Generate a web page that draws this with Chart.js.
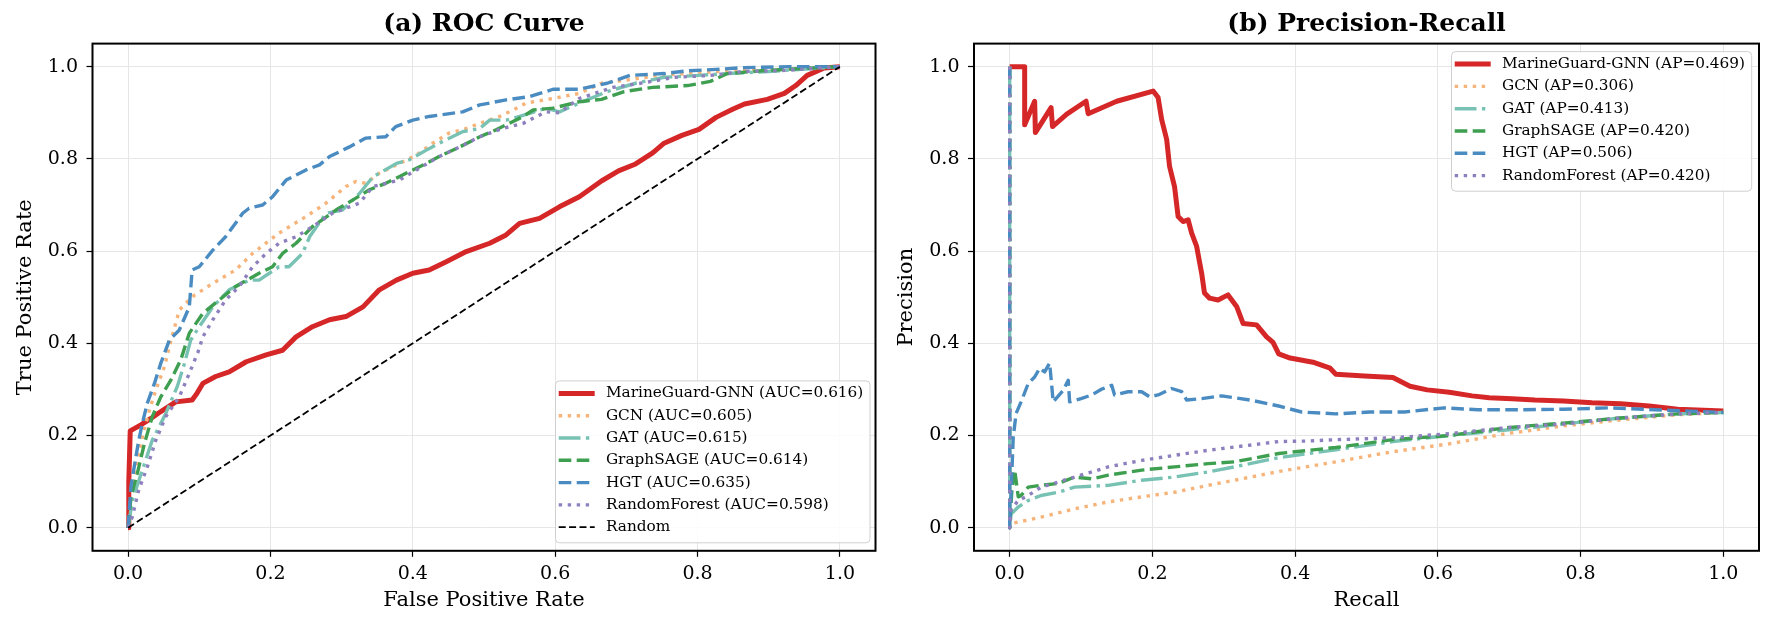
<!DOCTYPE html>
<html>
<head>
<meta charset="utf-8">
<title>ROC / PR</title>
<script src="https://cdn.jsdelivr.net/npm/chart.js@4.4.1/dist/chart.umd.min.js"></script>
<style>
  html, body { margin: 0; padding: 0; background: #fff; }
  #wrap { position: relative; width: 1774px; height: 624px; }
  canvas { position: absolute; top: 0; }
</style>
</head>
<body>
<div id="wrap">
  <canvas id="rocChart" width="887" height="624" style="left:0"></canvas>
  <canvas id="prChart" width="887" height="624" style="left:887px"></canvas>
</div>
<script>
// modellen + scores uit de legenda
const models = ["MarineGuard-GNN", "GCN", "GAT", "GraphSAGE", "HGT", "RandomForest"];
const rocAuc = ["0.616", "0.605", "0.615", "0.614", "0.635", "0.598"];
const prAp = ["0.469", "0.306", "0.413", "0.420", "0.506", "0.420"];
const tickVals = [0, 0.2, 0.4, 0.6, 0.8, 1.0];

// ROC curves (FPR / TPR)
const rocMgX = [0, 0.001, 0.003, 0.018, 0.032, 0.046, 0.067, 0.09, 0.097, 0.105, 0.123, 0.142, 0.166, 0.194, 0.217, 0.236, 0.259, 0.283, 0.306, 0.33, 0.353, 0.377, 0.4, 0.423, 0.447, 0.475, 0.508, 0.531, 0.55, 0.578, 0.606, 0.634, 0.665, 0.689, 0.713, 0.737, 0.753, 0.778, 0.802, 0.826, 0.85, 0.866, 0.898, 0.922, 0.938, 0.954, 0.978, 1];
const rocMgY = [0, 0.1, 0.21, 0.223, 0.237, 0.252, 0.273, 0.277, 0.292, 0.313, 0.328, 0.338, 0.36, 0.375, 0.385, 0.414, 0.436, 0.451, 0.458, 0.479, 0.516, 0.537, 0.552, 0.559, 0.577, 0.599, 0.617, 0.635, 0.66, 0.671, 0.696, 0.718, 0.752, 0.774, 0.789, 0.813, 0.834, 0.851, 0.864, 0.89, 0.908, 0.919, 0.929, 0.942, 0.959, 0.981, 0.997, 1];
const rocGcnX = [0, 0.013, 0.02, 0.03, 0.039, 0.051, 0.06, 0.072, 0.09, 0.119, 0.151, 0.175, 0.212, 0.25, 0.278, 0.306, 0.32, 0.334, 0.353, 0.381, 0.405, 0.428, 0.451, 0.47, 0.494, 0.522, 0.541, 0.559, 0.597, 0.634, 0.665, 0.705, 0.745, 0.786, 0.834, 0.906, 1];
const rocGcnY = [0, 0.14, 0.197, 0.255, 0.299, 0.349, 0.405, 0.472, 0.501, 0.53, 0.559, 0.595, 0.639, 0.675, 0.704, 0.74, 0.751, 0.747, 0.769, 0.79, 0.808, 0.834, 0.856, 0.863, 0.877, 0.892, 0.906, 0.921, 0.931, 0.942, 0.964, 0.972, 0.981, 0.985, 0.99, 0.994, 1];
const rocGatX = [0, 0.006, 0.02, 0.034, 0.053, 0.069, 0.078, 0.088, 0.1, 0.119, 0.142, 0.17, 0.184, 0.212, 0.226, 0.245, 0.255, 0.278, 0.301, 0.325, 0.344, 0.377, 0.395, 0.419, 0.437, 0.47, 0.494, 0.508, 0.531, 0.55, 0.587, 0.606, 0.634, 0.673, 0.713, 0.753, 0.802, 0.842, 0.906, 1];
const rocGatY = [0, 0.06, 0.125, 0.19, 0.248, 0.306, 0.35, 0.407, 0.436, 0.479, 0.516, 0.537, 0.537, 0.566, 0.566, 0.595, 0.631, 0.682, 0.689, 0.725, 0.761, 0.79, 0.798, 0.819, 0.834, 0.859, 0.866, 0.884, 0.884, 0.892, 0.91, 0.902, 0.921, 0.946, 0.964, 0.977, 0.981, 0.985, 0.99, 1];
const rocSageX = [0, 0.004, 0.013, 0.023, 0.034, 0.046, 0.06, 0.074, 0.086, 0.105, 0.128, 0.151, 0.184, 0.203, 0.217, 0.236, 0.259, 0.292, 0.316, 0.339, 0.362, 0.4, 0.419, 0.437, 0.466, 0.494, 0.517, 0.555, 0.569, 0.597, 0.634, 0.665, 0.697, 0.737, 0.786, 0.818, 0.842, 0.89, 0.946, 1];
const rocSageY = [0, 0.067, 0.118, 0.183, 0.241, 0.284, 0.32, 0.364, 0.422, 0.465, 0.494, 0.523, 0.552, 0.566, 0.595, 0.617, 0.653, 0.689, 0.711, 0.733, 0.747, 0.776, 0.79, 0.805, 0.826, 0.848, 0.863, 0.892, 0.906, 0.91, 0.924, 0.929, 0.946, 0.955, 0.959, 0.968, 0.985, 0.991, 0.996, 1];
const rocHgtX = [0, 0.004, 0.011, 0.015, 0.02, 0.027, 0.037, 0.046, 0.058, 0.072, 0.086, 0.09, 0.1, 0.119, 0.137, 0.161, 0.17, 0.189, 0.203, 0.222, 0.25, 0.269, 0.283, 0.311, 0.334, 0.362, 0.376, 0.4, 0.423, 0.47, 0.494, 0.531, 0.564, 0.597, 0.634, 0.673, 0.705, 0.753, 0.786, 0.826, 0.866, 0.93, 1];
const rocHgtY = [0, 0.089, 0.154, 0.19, 0.226, 0.27, 0.313, 0.357, 0.407, 0.429, 0.479, 0.559, 0.566, 0.602, 0.631, 0.682, 0.693, 0.7, 0.718, 0.754, 0.776, 0.787, 0.805, 0.826, 0.845, 0.848, 0.87, 0.884, 0.892, 0.902, 0.917, 0.928, 0.935, 0.951, 0.951, 0.964, 0.981, 0.985, 0.991, 0.994, 0.998, 1, 1];
const rocRfX = [0, 0.006, 0.015, 0.027, 0.039, 0.053, 0.072, 0.086, 0.098, 0.105, 0.119, 0.137, 0.156, 0.175, 0.194, 0.212, 0.236, 0.259, 0.287, 0.325, 0.344, 0.362, 0.381, 0.405, 0.437, 0.466, 0.494, 0.526, 0.555, 0.587, 0.606, 0.634, 0.681, 0.72, 0.769, 0.818, 0.866, 0.914, 1];
const rocRfY = [0, 0.024, 0.082, 0.132, 0.19, 0.241, 0.284, 0.335, 0.38, 0.414, 0.451, 0.494, 0.523, 0.566, 0.595, 0.617, 0.631, 0.653, 0.682, 0.704, 0.74, 0.747, 0.754, 0.776, 0.805, 0.826, 0.848, 0.866, 0.877, 0.902, 0.9, 0.931, 0.955, 0.964, 0.977, 0.981, 0.99, 0.991, 1];
const randomX = [0, 1];
const randomY = [0, 1];

// Precision-Recall curves (recall / precision)
const prMgX = [0, 0.021, 0.021, 0.035, 0.036, 0.058, 0.06, 0.08, 0.107, 0.11, 0.15, 0.201, 0.208, 0.213, 0.22, 0.224, 0.231, 0.236, 0.243, 0.25, 0.255, 0.262, 0.269, 0.273, 0.28, 0.292, 0.306, 0.318, 0.327, 0.346, 0.36, 0.369, 0.377, 0.393, 0.425, 0.449, 0.457, 0.497, 0.537, 0.561, 0.585, 0.616, 0.648, 0.672, 0.704, 0.736, 0.776, 0.816, 0.856, 0.896, 0.936, 1];
const prMgY = [1, 1, 0.874, 0.925, 0.857, 0.911, 0.87, 0.897, 0.925, 0.898, 0.925, 0.947, 0.933, 0.885, 0.842, 0.784, 0.74, 0.675, 0.664, 0.668, 0.639, 0.61, 0.552, 0.509, 0.498, 0.494, 0.505, 0.48, 0.443, 0.44, 0.414, 0.402, 0.377, 0.368, 0.359, 0.346, 0.333, 0.329, 0.326, 0.307, 0.299, 0.294, 0.286, 0.282, 0.28, 0.277, 0.275, 0.271, 0.269, 0.264, 0.257, 0.253];
const prGcnX = [0, 0, 0.005, 0.044, 0.091, 0.138, 0.185, 0.231, 0.278, 0.315, 0.377, 0.457, 0.537, 0.616, 0.696, 0.776, 0.856, 0.936, 1];
const prGcnY = [1, 0, 0.01, 0.023, 0.041, 0.056, 0.067, 0.077, 0.092, 0.103, 0.122, 0.143, 0.165, 0.182, 0.204, 0.221, 0.234, 0.245, 0.25];
const prGatX = [0, 0, 0.002, 0.012, 0.026, 0.044, 0.068, 0.091, 0.138, 0.185, 0.231, 0.278, 0.315, 0.377, 0.457, 0.537, 0.616, 0.696, 0.776, 0.856, 0.936, 1];
const prGatY = [1, 0, 0.03, 0.045, 0.059, 0.07, 0.077, 0.088, 0.092, 0.103, 0.11, 0.121, 0.132, 0.152, 0.169, 0.187, 0.2, 0.212, 0.225, 0.238, 0.247, 0.25];
const prSageX = [0, 0, 0.003, 0.007, 0.012, 0.016, 0.026, 0.044, 0.068, 0.091, 0.115, 0.138, 0.185, 0.231, 0.278, 0.315, 0.377, 0.457, 0.537, 0.616, 0.696, 0.776, 0.856, 0.936, 1];
const prSageY = [1, 0, 0.08, 0.125, 0.067, 0.07, 0.088, 0.092, 0.096, 0.11, 0.106, 0.114, 0.125, 0.132, 0.139, 0.143, 0.161, 0.174, 0.191, 0.2, 0.217, 0.227, 0.238, 0.247, 0.25];
const prHgtX = [0, 0, 0.005, 0.009, 0.016, 0.026, 0.035, 0.042, 0.049, 0.056, 0.061, 0.075, 0.082, 0.084, 0.1, 0.115, 0.128, 0.143, 0.147, 0.166, 0.185, 0.196, 0.208, 0.227, 0.241, 0.248, 0.269, 0.297, 0.337, 0.377, 0.409, 0.457, 0.505, 0.553, 0.609, 0.656, 0.72, 0.776, 0.84, 0.904, 0.952, 1];
const prHgtY = [1, 0, 0.197, 0.248, 0.273, 0.313, 0.327, 0.346, 0.338, 0.357, 0.273, 0.298, 0.32, 0.273, 0.28, 0.288, 0.3, 0.309, 0.288, 0.295, 0.295, 0.284, 0.288, 0.302, 0.295, 0.277, 0.28, 0.286, 0.277, 0.264, 0.251, 0.247, 0.251, 0.251, 0.26, 0.256, 0.256, 0.257, 0.26, 0.256, 0.253, 0.25];
const prRfX = [0, 0, 0.002, 0.012, 0.026, 0.044, 0.068, 0.091, 0.115, 0.138, 0.161, 0.185, 0.231, 0.278, 0.315, 0.377, 0.417, 0.457, 0.537, 0.616, 0.696, 0.776, 0.856, 0.936, 1];
const prRfY = [1, 0, 0.04, 0.059, 0.07, 0.088, 0.099, 0.11, 0.121, 0.132, 0.139, 0.146, 0.157, 0.168, 0.175, 0.187, 0.188, 0.191, 0.195, 0.204, 0.217, 0.225, 0.238, 0.247, 0.25];

// lijnstijlen (matplotlib-achtig)
const lineStyle = {
  "MarineGuard-GNN": { color: "#d62728", width: 5, dash: [] },
  "GCN": { color: "#f7b47a", width: 3.4, dash: [3.4, 5.6] },
  "GAT": { color: "#78c2b4", width: 3.4, dash: [21.8, 5.4, 3.4, 5.4] },
  "GraphSAGE": { color: "#3d9f4f", width: 3.4, dash: [12.6, 5.4] },
  "HGT": { color: "#4a8cc1", width: 3.4, dash: [12.6, 5.4] },
  "RandomForest": { color: "#8e80bf", width: 3.4, dash: [3.4, 5.6] },
  "Random": { color: "#000000", width: 1.8, dash: [7, 3.4] }
};

Chart.defaults.font.family = "'DejaVu Serif', serif";
Chart.defaults.color = "#000";

// titel boven het paneel
const panelTitle = {
  id: "panelTitle",
  afterDraw(chart, args, opts) {
    const { ctx, chartArea: a } = chart;
    ctx.save();
    ctx.font = "bold 25px 'DejaVu Serif'";
    ctx.fillStyle = "#000";
    ctx.textAlign = "center";
    ctx.textBaseline = "middle";
    ctx.fillText(opts.text, (a.left + a.right) / 2, 24);
    ctx.restore();
  }
};

// zwart kader + legenda binnen het plotvlak
const boxLegend = {
  id: "boxLegend",
  afterDraw(chart, args, opts) {
    const { ctx, chartArea: a } = chart;
    ctx.save();
    ctx.strokeStyle = "#000";
    ctx.lineWidth = 2;
    ctx.strokeRect(a.left, a.top, a.right - a.left, a.bottom - a.top);

    const sets = chart.data.datasets;
    ctx.font = "15.3px 'DejaVu Serif'";
    const textW = Math.max(...sets.map(d => ctx.measureText(d.label).width));
    const w = 50.4 + textW + 6.7;
    const h = 12.5 + (sets.length - 1) * 22.3 + 15.6;
    const x0 = a.right - opts.gapX - w;
    const y0 = opts.lower ? a.bottom - opts.gapY - h : a.top + opts.gapY;

    ctx.beginPath();
    ctx.roundRect(x0, y0, w, h, 4);
    ctx.fillStyle = "rgba(255,255,255,0.85)";
    ctx.fill();
    ctx.strokeStyle = "#d0d0d0";
    ctx.lineWidth = 1;
    ctx.stroke();

    sets.forEach((d, i) => {
      const yy = y0 + 12.5 + i * 22.3;
      ctx.beginPath();
      ctx.setLineDash(d.borderDash);
      ctx.lineCap = "butt";
      ctx.lineWidth = d.borderWidth;
      ctx.strokeStyle = d.borderColor;
      ctx.moveTo(x0 + 3.2, yy);
      ctx.lineTo(x0 + 39.2, yy);
      ctx.stroke();
      ctx.setLineDash([]);
      ctx.fillStyle = "#000";
      ctx.textAlign = "left";
      ctx.textBaseline = "middle";
      ctx.fillText(d.label, x0 + 50.4, yy);
    });
    ctx.restore();
  }
};

function toPoints(xs, ys) {
  return xs.map((x, i) => ({ x: x, y: ys[i] }));
}

function makeDataset(name, label, xs, ys, i) {
  const s = lineStyle[name];
  return {
    label: label,
    data: toPoints(xs, ys),
    borderColor: s.color,
    borderWidth: s.width,
    borderDash: s.dash,
    borderJoinStyle: "round",
    pointRadius: 0,
    pointHoverRadius: 0,
    tension: 0,
    fill: false,
    order: -i // later series on top, like matplotlib
  };
}

function makeChart(id, datasets, cfg) {
  return new Chart(document.getElementById(id), {
    type: "line",
    data: { datasets },
    options: {
      responsive: false,
      animation: false,
      devicePixelRatio: 1,
      layout: { padding: { left: 0, right: cfg.padRight, top: 43.6, bottom: 0 } },
      plugins: {
        legend: { display: false },
        tooltip: { enabled: false },
        panelTitle: { text: cfg.title },
        boxLegend: { lower: cfg.lowerLegend, gapX: cfg.gapX, gapY: 8 }
      },
      scales: {
        x: {
          type: "linear",
          min: -0.05,
          max: 1.05,
          afterBuildTicks: s => { s.ticks = tickVals.map(v => ({ value: v })); },
          afterFit: s => { s.height = 73.2; },
          ticks: { callback: v => v.toFixed(1), font: { size: 19 }, padding: 5.5, maxRotation: 0, autoSkip: false },
          grid: { color: "#e6e6e6", lineWidth: 1, tickColor: "#000", tickLength: 6, tickWidth: 1.2 },
          border: { display: false },
          title: { display: true, text: cfg.xTitle, font: { size: 21 }, padding: { top: 0, bottom: 10.4 } }
        },
        y: {
          type: "linear",
          min: -0.05,
          max: 1.05,
          afterBuildTicks: s => { s.ticks = tickVals.map(v => ({ value: v })); },
          afterFit: s => { s.width = cfg.yWidth; },
          ticks: { callback: v => v.toFixed(1), font: { size: 19 }, padding: 8.5, autoSkip: false },
          grid: { color: "#e6e6e6", lineWidth: 1, tickColor: "#000", tickLength: 6, tickWidth: 1.2 },
          border: { display: false },
          title: { display: true, text: cfg.yTitle, font: { size: 21 }, padding: { top: cfg.yWidth - 67 - 12.6, bottom: 0 } }
        }
      }
    },
    plugins: [panelTitle, boxLegend]
  });
}

const rocCurves = [
  [rocMgX, rocMgY], [rocGcnX, rocGcnY], [rocGatX, rocGatY],
  [rocSageX, rocSageY], [rocHgtX, rocHgtY], [rocRfX, rocRfY]
];
const prCurves = [
  [prMgX, prMgY], [prGcnX, prGcnY], [prGatX, prGatY],
  [prSageX, prSageY], [prHgtX, prHgtY], [prRfX, prRfY]
];

const rocSets = models.map((m, i) =>
  makeDataset(m, `${m} (AUC=${rocAuc[i]})`, rocCurves[i][0], rocCurves[i][1], i));
rocSets.push(makeDataset("Random", "Random", randomX, randomY, 6));

const prSets = models.map((m, i) =>
  makeDataset(m, `${m} (AP=${prAp[i]})`, prCurves[i][0], prCurves[i][1], i));

makeChart("rocChart", rocSets, {
  title: "(a) ROC Curve", xTitle: "False Positive Rate", yTitle: "True Positive Rate",
  yWidth: 92.5, padRight: 11.5, lowerLegend: true, gapX: 5.5
});
makeChart("prChart", prSets, {
  title: "(b) Precision-Recall", xTitle: "Recall", yTitle: "Precision",
  yWidth: 87, padRight: 15, lowerLegend: false, gapX: 7.3
});
</script>
</body>
</html>
